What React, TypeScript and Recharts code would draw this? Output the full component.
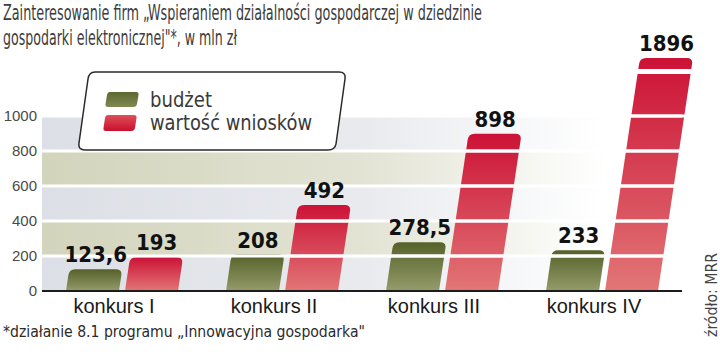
import React from "react";
import { BarChart, Bar, XAxis, YAxis, ReferenceArea, ReferenceLine, LabelList, Legend } from "recharts";

const categories = ["konkurs I", "konkurs II", "konkurs III", "konkurs IV"];
const budzet = [123.6, 208, 278.5, 233];
const wnioski = [193, 492, 898, 1896];
const yTicks = [0, 200, 400, 600, 800, 1000];
const seriesNames = ["budżet", "wartość wniosków"];

const data = categories.map((name, i) => ({ name, budzet: budzet[i], wnioski: wnioski[i] }));

// layout
const PLOT_TOP = 58;
const PLOT_BOTTOM = 291;
const PX_PER_1000 = 175;
const Y_MAX = (1000 * (PLOT_BOTTOM - PLOT_TOP)) / PX_PER_1000;
const PX_PER_UNIT = (PLOT_BOTTOM - PLOT_TOP) / Y_MAX;
const SLANT = 0.15;

const LIGHT = "'Liberation Sans Narrow', 'DejaVu Sans Condensed', sans-serif";
const BOLD = "'DejaVu Sans Condensed', 'DejaVu Sans', sans-serif";

const fmt = (v: number) => String(v).replace(".", ",");

function SlantBar(p: any) {
  const { x, y, width: w, height: h, fill } = p;
  if (x == null || y == null || !w || !h) return null;
  const y0 = y + h;
  const top = Math.max(y, PLOT_TOP);
  const broken = y < PLOT_TOP - 0.5;
  const r = Math.min(6, (y0 - top) / 2);
  const s = SLANT * (y0 - top);
  const sr = SLANT * (y0 - top - r);
  const d = [
    `M${x},${y0}`,
    `L${x + sr},${top + r}`,
    `Q${x + s},${top} ${x + s + r},${top}`,
    `L${x + w + s - r},${top}`,
    `Q${x + w + s},${top} ${x + w + sr},${top + r}`,
    `L${x + w},${y0}`,
    "Z",
  ].join(" ");
  // white grid lines crossing the bar
  const lines = yTicks
    .filter((t) => t > 0)
    .map((t) => {
      const yy = y0 - t * PX_PER_UNIT;
      if (yy < top + 3) return null;
      const off = SLANT * (y0 - yy);
      return <line key={t} x1={x + off - 1} x2={x + w + off + 1} y1={yy} y2={yy} stroke="#fff" strokeWidth={3} />;
    });
  return (
    <g>
      <path d={d} fill={fill} />
      {lines}
      {broken && <rect x={x - 4} y={top + 11} width={w + s + 8} height={5} fill="#fff" />}
    </g>
  );
}

function ValueLabel(p: any) {
  const vb = p.viewBox || {};
  const x = p.x ?? vb.x;
  const y = p.y ?? vb.y;
  const w = p.width ?? vb.width;
  const h = p.height ?? vb.height;
  if (x == null || y == null) return null;
  const y0 = y + h;
  const top = Math.max(y, PLOT_TOP);
  const cx = x + w / 2 + SLANT * (y0 - top);
  return (
    <text x={cx} y={top - 7} textAnchor="middle" fontFamily={BOLD} fontWeight={700} fontSize={22} fill="#111">
      {fmt(Number(p.value))}
    </text>
  );
}

const CatTick = ({ x, y, payload }: any) => (
  <text x={x - 8} y={y + 22} textAnchor="middle" fontFamily="'Liberation Sans', Arial, sans-serif" fontSize={20} fill="#1a1a1a">
    {payload?.value}
  </text>
);

const ValTick = ({ x, y, payload }: any) => (
  <text x={x} y={y + 5} textAnchor="end" fontFamily="'Liberation Sans', Arial, sans-serif" fontSize={15} fill="#4a4a4a">
    {payload?.value}
  </text>
);

function LegendBox() {
  return (
    <svg width={274} height={86} style={{ display: "block" }}>
      <path
        d="M19,2 L263,2 Q270,2 269,9 L260,74 Q259,80 252,80 L9,80 Q2,80 3,73 L12,9 Q13,2 19,2 Z"
        fill="#fff"
        stroke="#2a2a2a"
        strokeWidth={1.5}
      />
      <path d="M34,22 L60,22 Q63,22 62.5,25 L61,34 Q60.5,37 57,37 L32,37 Q29,37 29.5,34 L31,25 Q31.5,22 34,22 Z" fill="url(#lgGreen)" />
      <path d="M32,45 L58,45 Q61,45 60.5,48 L59,58 Q58.5,61 55,61 L30,61 Q27,61 27.5,58 L29,48 Q29.5,45 32,45 Z" fill="url(#lgRed)" />
      <text x={74} y={37} fontFamily={LIGHT} fontSize={21} fill="#3a3a3a" textLength={62} lengthAdjust="spacingAndGlyphs">
        {seriesNames[0]}
      </text>
      <text x={74} y={60} fontFamily={LIGHT} fontSize={21} fill="#3a3a3a" textLength={162} lengthAdjust="spacingAndGlyphs">
        {seriesNames[1]}
      </text>
    </svg>
  );
}

export default function App() {
  return (
    <div style={{ position: "absolute", left: 0, top: 0, width: 720, height: 356, background: "#fff", overflow: "hidden" }}>
      <svg width={0} height={0} style={{ position: "absolute" }}>
        <defs>
          <linearGradient id="gradGreen" x1="0" y1="0" x2="0" y2="1">
            <stop offset="0" stopColor="#56612a" />
            <stop offset="1" stopColor="#949c6b" />
          </linearGradient>
          <linearGradient id="gradRed" x1="0" y1="0" x2="0" y2="1">
            <stop offset="0" stopColor="#cc1236" />
            <stop offset="1" stopColor="#e27676" />
          </linearGradient>
          <linearGradient id="lgGreen" x1="0" y1="0" x2="0" y2="1">
            <stop offset="0" stopColor="#5c6830" />
            <stop offset="1" stopColor="#7e8a50" />
          </linearGradient>
          <linearGradient id="lgRed" x1="0" y1="0" x2="0" y2="1">
            <stop offset="0" stopColor="#e0505a" />
            <stop offset="1" stopColor="#c8102e" />
          </linearGradient>
          <linearGradient id="bandBeige" x1="0" y1="0" x2="1" y2="0">
            <stop offset="0" stopColor="#d3d4bc" stopOpacity={1} />
            <stop offset="0.5" stopColor="#d3d4bc" stopOpacity={0.65} />
            <stop offset="0.88" stopColor="#d3d4bc" stopOpacity={0} />
          </linearGradient>
          <linearGradient id="bandGray" x1="0" y1="0" x2="1" y2="0">
            <stop offset="0" stopColor="#dcdfe5" stopOpacity={1} />
            <stop offset="0.5" stopColor="#dcdfe5" stopOpacity={0.65} />
            <stop offset="0.88" stopColor="#dcdfe5" stopOpacity={0} />
          </linearGradient>
        </defs>
      </svg>

      <BarChart
        width={720}
        height={356}
        data={data}
        margin={{ top: PLOT_TOP, right: 38, bottom: 356 - PLOT_BOTTOM - 30, left: 0 }}
        barSize={53}
        barGap={6}
      >
        {yTicks.slice(0, -1).map((t, i) => (
          <ReferenceArea
            key={"band" + t}
            y1={t}
            y2={yTicks[i + 1]}
            fill={i % 2 === 1 ? "url(#bandBeige)" : "url(#bandGray)"}
            fillOpacity={1}
            stroke="none"
          />
        ))}
        {yTicks.slice(1).map((t) => (
          <ReferenceLine key={"gl" + t} y={t} stroke="#fff" strokeWidth={3} />
        ))}
        <XAxis
          dataKey="name"
          height={30}
          interval={0}
          tickLine={false}
          tickSize={0}
          tickMargin={0}
          axisLine={{ stroke: "#1c1c1c", strokeWidth: 2 }}
          tick={<CatTick />}
        />
        <YAxis
          width={42}
          domain={[0, Y_MAX]}
          ticks={yTicks}
          allowDataOverflow
          axisLine={false}
          tickLine={false}
          tickSize={0}
          tickMargin={5}
          tick={<ValTick />}
        />
        <Legend
          layout="vertical"
          align="center"
          verticalAlign="middle"
          wrapperStyle={{ left: 76, top: 70, width: 274, height: 86 }}
          content={<LegendBox />}
        />
        <Bar dataKey="budzet" name={seriesNames[0]} fill="url(#gradGreen)" shape={SlantBar} isAnimationActive={false}>
          <LabelList dataKey="budzet" content={ValueLabel} />
        </Bar>
        <Bar dataKey="wnioski" name={seriesNames[1]} fill="url(#gradRed)" shape={SlantBar} isAnimationActive={false}>
          <LabelList dataKey="wnioski" content={ValueLabel} />
        </Bar>
      </BarChart>

      <svg width={720} height={356} style={{ position: "absolute", left: 0, top: 0, pointerEvents: "none" }}>
        <text x={3} y={20} fontFamily={LIGHT} fontSize={21} fill="#3c3c3c" textLength={479} lengthAdjust="spacingAndGlyphs">
          Zainteresowanie firm „Wspieraniem działalności gospodarczej w dziedzinie
        </text>
        <text x={3} y={45} fontFamily={LIGHT} fontSize={21} fill="#3c3c3c" textLength={234} lengthAdjust="spacingAndGlyphs">
          gospodarki elektronicznej"*, w mln zł
        </text>
        <text x={3} y={337} fontFamily={LIGHT} fontSize={16} fill="#2a2a2a" textLength={362} lengthAdjust="spacingAndGlyphs">
          *działanie 8.1 programu „Innowacyjna gospodarka"
        </text>
        <text
          x={0}
          y={0}
          transform="translate(717,337) rotate(-90)"
          fontFamily={LIGHT}
          fontSize={15}
          fill="#444"
          textLength={84}
          lengthAdjust="spacingAndGlyphs"
        >
          źródło: MRR
        </text>
      </svg>
    </div>
  );
}
